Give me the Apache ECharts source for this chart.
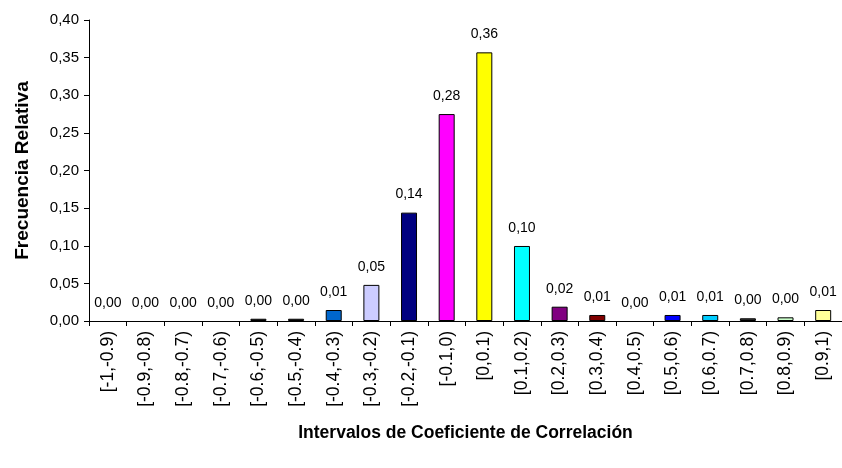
<!DOCTYPE html>
<html>
<head>
<meta charset="utf-8">
<script src="https://cdn.jsdelivr.net/npm/echarts@6/dist/echarts.min.js"></script>
<style>
  html, body { margin: 0; padding: 0; background: #fff; }
  #chart { width: 842px; height: 468px; }
</style>
</head>
<body>
<div id="chart"></div>
<script>
// intervals of the correlation coefficient
var intervalos = ['[-1,-0.9)', '[-0.9,-0.8)', '[-0.8,-0.7)', '[-0.7,-0.6)', '[-0.6,-0.5)',
    '[-0.5,-0.4)', '[-0.4,-0.3)', '[-0.3,-0.2)', '[-0.2,-0.1)', '[-0.1,0)',
    '[0,0.1)', '[0.1,0.2)', '[0.2,0.3)', '[0.3,0.4)', '[0.4,0.5)',
    '[0.5,0.6)', '[0.6,0.7)', '[0.7,0.8)', '[0.8,0.9)', '[0.9,1)'];
// relative frequency
var frecuencia = [0, 0, 0, 0, 0.003, 0.003, 0.0146, 0.048, 0.144, 0.275,
    0.357, 0.0997, 0.019, 0.008, 0, 0.008, 0.008, 0.0036, 0.0049, 0.0146];
// bar fills, one per interval
var colores = ['#000000', '#000000', '#000000', '#000000', '#333333',
    '#333333', '#0066CC', '#CCCCFF', '#000080', '#FF00FF',
    '#FFFF00', '#00FFFF', '#800080', '#800000', '#000000',
    '#0000FF', '#00CCFF', '#333333', '#CCFFCC', '#FFFF99'];

var dom = document.getElementById('chart');
var myChart = echarts.init(dom);

function coma(v) {
    return v.toFixed(2).replace('.', ',');
}

var option = {
    backgroundColor: '#ffffff',
    animation: false,
    textStyle: { fontFamily: 'Liberation Sans, Arial, sans-serif', color: '#000' },
    grid: {
        left: 89,
        top: 20,
        width: 756,
        height: 301
    },
    xAxis: {
        type: 'category',
        data: intervalos,
        name: 'Intervalos de Coeficiente de Correlación',
        nameLocation: 'middle',
        nameGap: 103,
        nameTextStyle: { fontSize: 17.5, fontWeight: 'bold', color: '#000' },
        axisLine: { lineStyle: { color: '#000', width: 1 } },
        axisTick: { show: true, length: 5, lineStyle: { color: '#000' } },
        axisLabel: { rotate: 90, fontSize: 17.5, color: '#000', margin: 10, interval: 0 }
    },
    yAxis: {
        type: 'value',
        min: 0,
        max: 0.4,
        interval: 0.05,
        name: 'Frecuencia Relativa',
        nameLocation: 'middle',
        nameGap: 57,
        nameTextStyle: { fontSize: 19, fontWeight: 'bold', color: '#000' },
        splitLine: { show: false },
        axisLine: { show: true, lineStyle: { color: '#000', width: 1 } },
        axisTick: { show: true, length: 5, lineStyle: { color: '#000' } },
        axisLabel: {
            fontSize: 15,
            color: '#000',
            margin: 10,
            formatter: function (v) { return coma(v); }
        }
    },
    series: [{
        type: 'bar',
        barWidth: 16,
        z: 1,
        data: frecuencia.map(function (v, i) {
            return {
                value: v,
                itemStyle: { color: colores[i], borderColor: '#000', borderWidth: v > 0 ? 1 : 0 }
            };
        }),
        label: {
            show: true,
            position: 'top',
            distance: 11,
            fontSize: 14,
            color: '#000',
            formatter: function (p) { return coma(p.value); }
        }
    }]
};
myChart.setOption(option, true);
</script>
</body>
</html>
